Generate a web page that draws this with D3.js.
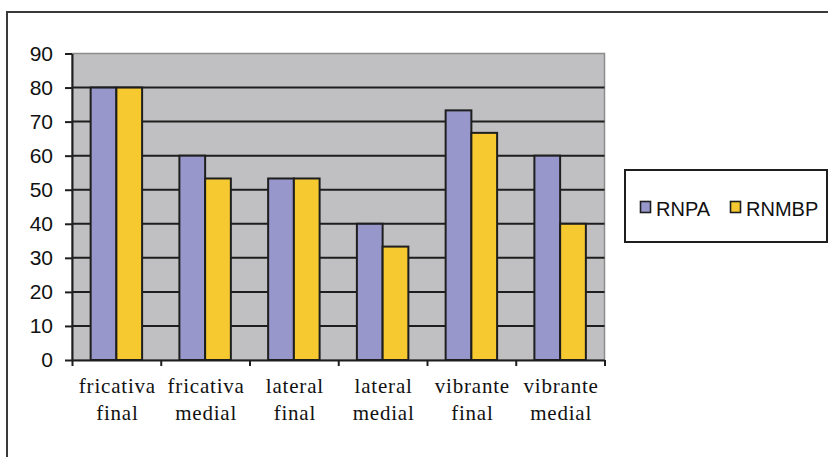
<!DOCTYPE html>
<html>
<head>
<meta charset="utf-8">
<script src="https://cdn.jsdelivr.net/npm/d3@7"></script>
<style>
  html, body { margin: 0; padding: 0; background: #fff; }
  svg { display: block; }
</style>
</head>
<body>
<svg id="chart" width="828" height="457"></svg>
<script>
// Category labels (two lines each) and series values
const categories = [
  ["fricativa", "final"],
  ["fricativa", "medial"],
  ["lateral", "final"],
  ["lateral", "medial"],
  ["vibrante", "final"],
  ["vibrante", "medial"]
];
const seriesNames = ["RNPA", "RNMBP"];
const rnpa  = [80, 60, 53.3, 40, 73.3, 60];
const rnmbp = [80, 53.3, 53.3, 33.3, 66.7, 40];
const yTicks = [0, 10, 20, 30, 40, 50, 60, 70, 80, 90];

const colors = { RNPA: "#9797cb", RNMBP: "#f5c92f" };
const values = { RNPA: rnpa, RNMBP: rnmbp };

const svg = d3.select("#chart");

// Outer frame (runs off the right and bottom edges)
svg.append("rect")
  .attr("x", 7).attr("y", 12)
  .attr("width", 840).attr("height", 470)
  .attr("fill", "#fff").attr("stroke", "#3a3a3a").attr("stroke-width", 2);

const plot = { left: 72, right: 604.5, top: 53.5, bottom: 360 };

const x = d3.scaleBand()
  .domain(d3.range(categories.length))
  .range([plot.left, plot.right])
  .padding(0);

const bw = x.bandwidth();
const xs = d3.scaleBand()
  .domain(seriesNames)
  .range([bw * 0.21, bw * 0.79])
  .padding(0);

const y = d3.scaleLinear().domain([0, 90]).range([plot.bottom, plot.top]);

// Plot background
svg.append("rect")
  .attr("x", plot.left).attr("y", plot.top)
  .attr("width", plot.right - plot.left).attr("height", plot.bottom - plot.top)
  .attr("fill", "#c0c0c2").attr("stroke", "#8c8c8c").attr("stroke-width", 1.5);

// Gridlines
svg.append("g")
  .selectAll("line")
  .data(yTicks.filter(t => t > 0 && t < 90))
  .join("line")
  .attr("x1", plot.left).attr("x2", plot.right)
  .attr("y1", d => y(d)).attr("y2", d => y(d))
  .attr("stroke", "#1e1e1e").attr("stroke-width", 2);

// Bars
const groups = svg.append("g")
  .selectAll("g")
  .data(categories.map((c, i) => i))
  .join("g")
  .attr("transform", i => `translate(${x(i)},0)`);

groups.selectAll("rect")
  .data(i => seriesNames.map(s => ({ s, v: values[s][i] })))
  .join("rect")
  .attr("x", d => xs(d.s))
  .attr("width", xs.bandwidth())
  .attr("y", d => y(d.v))
  .attr("height", d => y(0) - y(d.v))
  .attr("fill", d => colors[d.s])
  .attr("stroke", "#1e1e1e").attr("stroke-width", 2);

// Y axis
const yAxis = svg.append("g")
  .attr("transform", `translate(${plot.left},0)`)
  .call(d3.axisLeft(y).tickValues(yTicks).tickSize(7).tickPadding(12).tickSizeOuter(0));
yAxis.select(".domain").attr("stroke", "#1e1e1e").attr("stroke-width", 2);
yAxis.selectAll(".tick line").attr("stroke", "#1e1e1e").attr("stroke-width", 2);
yAxis.selectAll(".tick text")
  .attr("font-family", "Liberation Sans, Arial, sans-serif")
  .attr("font-size", 21)
  .attr("fill", "#111");

// X axis
const xAxis = svg.append("g")
  .attr("transform", `translate(0,${plot.bottom})`)
  .call(d3.axisBottom(d3.scaleLinear().domain([0, categories.length]).range([plot.left, plot.right]))
    .tickValues(d3.range(categories.length + 1)).tickSize(6).tickFormat("").tickSizeOuter(0));
xAxis.select(".domain").attr("stroke", "#1e1e1e").attr("stroke-width", 2);
xAxis.selectAll(".tick line").attr("stroke", "#1e1e1e").attr("stroke-width", 2);

// Category labels
const labels = svg.append("g")
  .selectAll("text")
  .data(categories)
  .join("text")
  .attr("x", (d, i) => x(i) + bw / 2 + 1)
  .attr("y", 392.5)
  .attr("text-anchor", "middle")
  .attr("font-family", "Liberation Serif, Times New Roman, serif")
  .attr("font-size", 21)
  .attr("letter-spacing", 0.8)
  .attr("fill", "#111");
labels.selectAll("tspan")
  .data(d => d)
  .join("tspan")
  .attr("x", function () { return d3.select(this.parentNode).attr("x"); })
  .attr("dy", (d, j) => j === 0 ? 0 : 27.5)
  .text(d => d);

// Legend
const legend = svg.append("g");
legend.append("rect")
  .attr("x", 625).attr("y", 170)
  .attr("width", 202).attr("height", 72)
  .attr("fill", "#fff").attr("stroke", "#1e1e1e").attr("stroke-width", 2);

const legendX = [640, 730];
const items = legend.selectAll("g.item")
  .data(seriesNames)
  .join("g")
  .attr("class", "item")
  .attr("transform", (d, i) => `translate(${legendX[i]},201)`);
items.append("rect")
  .attr("x", 0.5).attr("y", 0.5)
  .attr("width", 10).attr("height", 11)
  .attr("fill", d => colors[d])
  .attr("stroke", "#1e1e1e").attr("stroke-width", 1.6);
items.append("text")
  .attr("x", 16).attr("y", 14.5)
  .attr("font-family", "Liberation Sans, Arial, sans-serif")
  .attr("font-size", 20)
  .attr("fill", "#111")
  .text(d => d);
</script>
</body>
</html>
